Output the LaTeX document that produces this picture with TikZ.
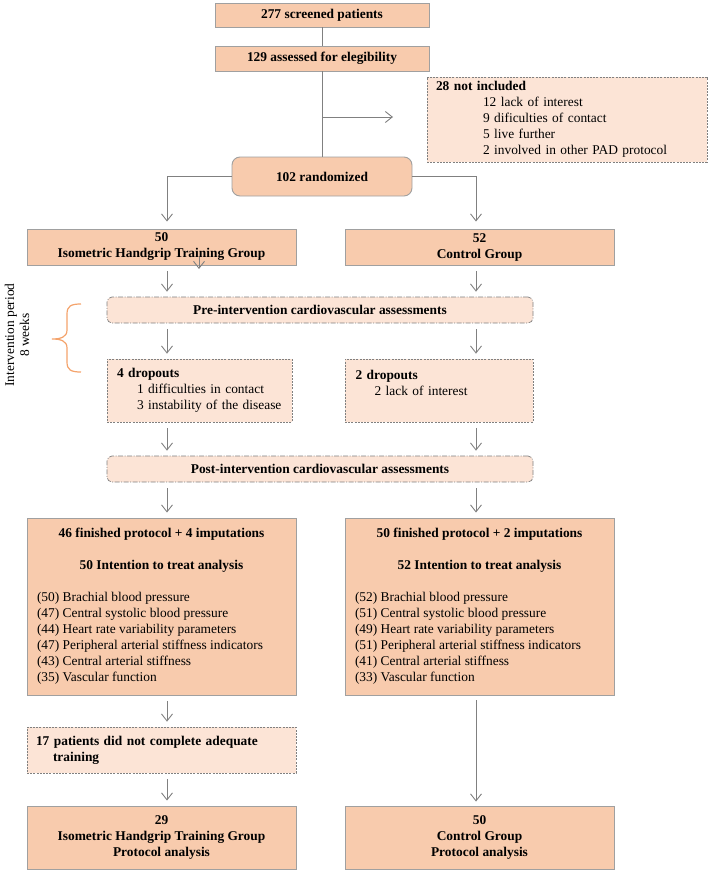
\documentclass[tikz,border=0pt]{standalone}
\usepackage{fontspec}
\setmainfont{Liberation Serif}
\usetikzlibrary{arrows.meta,calc}
\definecolor{solidfill}{HTML}{F8CBAD}
\definecolor{lightfill}{HTML}{FCE4D6}
\definecolor{edgegray}{HTML}{A0A0A0}
\definecolor{dashgray}{HTML}{808080}
\definecolor{linegray}{HTML}{808080}
\definecolor{braceorange}{HTML}{F4A36C}
\newcommand\rowtext[1]{\makebox[249pt][l]{#1}}
\begin{document}
\begin{tikzpicture}[x=1pt,y=-1pt,
  every node/.style={font=\fontsize{13.4}{16}\selectfont, text=black},
  boldtext/.style={font=\fontsize{13.4}{16}\selectfont\bfseries},
  solidbox/.style={draw=edgegray, fill=solidfill, line width=0.9pt, inner sep=0pt, align=center},
  dashbox/.style={draw=dashgray, fill=lightfill, line width=0.7pt, dash pattern=on 2pt off 1.2pt, inner sep=0pt},
  dotbox/.style={draw=dashgray, fill=lightfill, line width=0.7pt, dash pattern=on 5pt off 1.5pt on 1pt off 1.5pt, rounded corners=5pt, inner sep=0pt, align=center},
  link/.style={draw=linegray, line width=0.9pt},
  arr/.style={draw=linegray, line width=0.9pt, -{Straight Barb[length=7pt,width=11pt,line width=0.9pt]}},
  gap/.style={shorten <=6pt, shorten >=5pt}]
\useasboundingbox (0,0) rectangle (709,872);

% top part
\node[solidbox, boldtext, minimum width=214pt, minimum height=24pt] (s277) at (322,15) {277 screened patients};
\node[solidbox, boldtext, minimum width=214pt, minimum height=25pt] (a129) at (322,58.5) {129 assessed for elegibility};
\node[dashbox, minimum width=280pt, minimum height=85pt, text width=262pt, inner xsep=9pt, align=left] (not28) at (567,119.5)
  {\textbf{28 not included}\\
   \hspace*{47pt}12 lack of interest\\
   \hspace*{47pt}9 dificulties of contact\\
   \hspace*{47pt}5 live further\\
   \hspace*{47pt}2 involved in other PAD protocol};
\node[solidbox, boldtext, rounded corners=8pt, minimum width=180pt, minimum height=39pt] (rand) at (322,176.5) {102 randomized};

\coordinate (exc) at (393,117);
\coordinate (colL) at (167,0);
\coordinate (colR) at (476,0);

\draw[link] (s277) -- (a129);
\draw[link] (a129) -- (rand);
\draw[arr] (a129.south |- exc) -- (exc);

% groups
\node[solidbox, boldtext, minimum width=269pt, minimum height=36pt] (igroup) at (161.5,247) {50\\Isometric Handgrip Training Group};
\node[solidbox, boldtext, minimum width=269pt, minimum height=36pt] (cgroup) at (479.5,247) {52\\Control Group};

\draw[arr, shorten >=7pt] (rand.west) -| (igroup.north -| colL);
\draw[arr, shorten >=7pt] (rand.east) -| (cgroup.north -| colR);

\coordinate (st1) at (199,257);
\coordinate (st2) at (199,269);
\draw[arr] (st1) -- (st2);

% assessments and dropouts
\node[dotbox, boldtext, minimum width=426pt, minimum height=26pt] (pre) at (320,310) {Pre-intervention cardiovascular assessments};
\node[dashbox, minimum width=185pt, minimum height=63pt, text width=165pt, inner xsep=10pt, align=left] (dropL) at (199.5,390.5)
  {\textbf{4 dropouts}\\
   \hspace*{20pt}1 difficulties in contact\\
   \hspace*{20pt}3 instability of the disease};
\node[dashbox, minimum width=188pt, minimum height=63pt, text width=167pt, inner xsep=10.5pt, align=left] (dropR) at (439,390.5)
  {\textbf{2 dropouts}\\
   \hspace*{19pt}2 lack of interest\\
   \mbox{}};
\node[dotbox, boldtext, minimum width=426pt, minimum height=26pt] (post) at (320,469) {Post-intervention cardiovascular assessments};

\draw[arr, gap] (igroup.south -| colL) -- (pre.north -| colL);
\draw[arr, gap] (cgroup.south -| colR) -- (pre.north -| colR);
\draw[arr, gap] (pre.south -| colL) -- (dropL.north -| colL);
\draw[arr, gap] (pre.south -| colR) -- (dropR.north -| colR);
\draw[arr, gap] (dropL.south -| colL) -- (post.north -| colL);
\draw[arr, gap] (dropR.south -| colR) -- (post.north -| colR);

% analysis boxes
\node[solidbox, minimum width=269pt, minimum height=177pt] (bigL) at (161.5,606.5)
  {\textbf{46 finished protocol + 4 imputations}\\[16pt]
   \textbf{50 Intention to treat analysis}\\[16pt]
   \rowtext{(50) Brachial blood pressure}\\
   \rowtext{(47) Central systolic blood pressure}\\
   \rowtext{(44) Heart rate variability parameters}\\
   \rowtext{(47) Peripheral arterial stiffness indicators}\\
   \rowtext{(43) Central arterial stiffness}\\
   \rowtext{(35) Vascular function}};
\node[solidbox, minimum width=269pt, minimum height=177pt] (bigR) at (479.5,606.5)
  {\textbf{50 finished protocol + 2 imputations}\\[16pt]
   \textbf{52 Intention to treat analysis}\\[16pt]
   \rowtext{(52) Brachial blood pressure}\\
   \rowtext{(51) Central systolic blood pressure}\\
   \rowtext{(49) Heart rate variability parameters}\\
   \rowtext{(51) Peripheral arterial stiffness indicators}\\
   \rowtext{(41) Central arterial stiffness}\\
   \rowtext{(33) Vascular function}};

\draw[arr, gap] (post.south -| colL) -- (bigL.north -| colL);
\draw[arr, gap] (post.south -| colR) -- (bigR.north -| colR);

\node[dashbox, minimum width=269pt, minimum height=46pt, text width=251pt, inner xsep=9pt, align=left] (p17) at (161.5,750)
  {\textbf{17 patients did not complete adequate}\\
   \hspace*{17pt}\textbf{training}};

\node[solidbox, boldtext, minimum width=269pt, minimum height=63pt] (finL) at (161.5,837.5) {29\\Isometric Handgrip Training Group\\Protocol analysis};
\node[solidbox, boldtext, minimum width=269pt, minimum height=63pt] (finR) at (479.5,837.5) {50\\Control Group\\Protocol analysis};

\draw[arr, gap] (bigL.south -| colL) -- (p17.north -| colL);
\draw[arr, gap] (p17.south -| colL) -- (finL.north -| colL);
\draw[arr, shorten <=5pt, shorten >=4pt] (bigR.south -| colR) -- (finR.north -| colR);

% intervention period brace
\draw[braceorange, line width=1.2pt] (81,304) .. controls (71,304) and (67,306) .. (67,314) -- (67,330)
  .. controls (67,337) and (61,339) .. (52,339) .. controls (61,339) and (67,341) .. (67,348) -- (67,362)
  .. controls (67,370) and (71,372) .. (81,372);
\node[rotate=90, align=center, font=\fontsize{13.4}{15}\selectfont] (period) at (17,335) {Intervention period\\8 weeks};
\end{tikzpicture}
\end{document}
